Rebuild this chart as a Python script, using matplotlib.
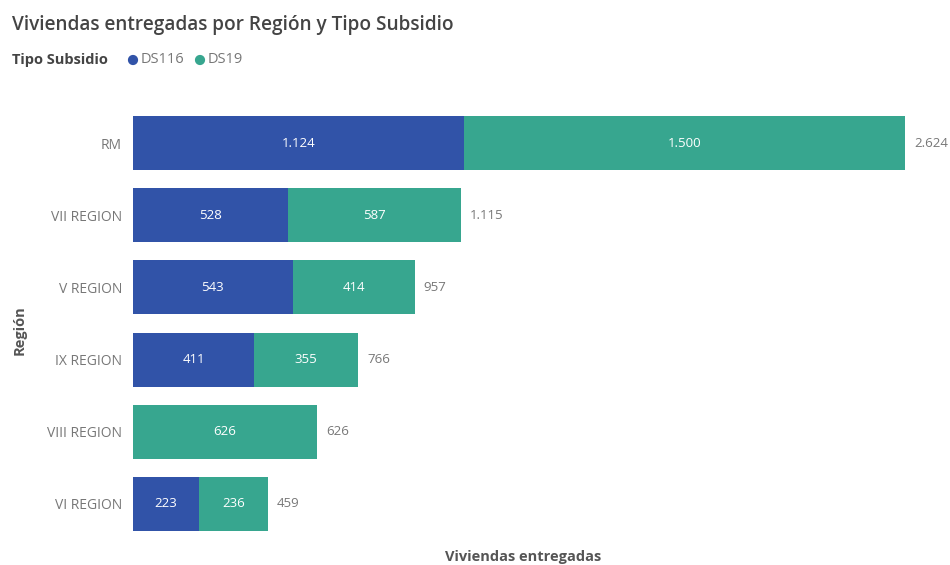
import matplotlib.pyplot as plt
import numpy as np

plt.rcParams['font.family'] = ['Open Sans', 'DejaVu Sans']

regiones = ["RM", "VII REGION", "V REGION", "IX REGION", "VIII REGION", "VI REGION"]
ds116 = [1124, 528, 543, 411, 0, 223]
ds19 = [1500, 587, 414, 355, 626, 236]

azul = "#3153a8"
verde = "#37a68f"


def fmt(v):
    return "{:,}".format(v).replace(",", ".")


fig = plt.figure(figsize=(9.5, 5.65), dpi=100)
ax = fig.add_axes([0.14, 0.0442, 0.86, 0.7664])

y = np.arange(len(regiones))
a = np.array(ds116)
b = np.array(ds19)
total = a + b

ax.barh(y, a, height=0.75, color=azul)
ax.barh(y, b, left=a, height=0.75, color=verde)

for i in range(len(regiones)):
    if a[i] > 0:
        ax.text(a[i] / 2, y[i], fmt(a[i]), color="white", ha="center",
                va="center", fontsize=9.5)
    if b[i] > 0:
        ax.text(a[i] + b[i] / 2, y[i], fmt(b[i]), color="white", ha="center",
                va="center", fontsize=9.5)
    ax.text(total[i] + 30, y[i], fmt(total[i]), color="#777777", ha="left",
            va="center", fontsize=9.5)

ax.set_xlim(0, 2777)
ax.set_ylim(5.5, -0.5)
ax.set_yticks(y)
ax.set_yticklabels(regiones, color="#777777", fontsize=10)
ax.tick_params(axis="y", length=0, pad=8)
ax.set_xticks([])
for s in ax.spines.values():
    s.set_visible(False)

fig.text(20 / 950, 1 - 330 / 565, "Región", rotation=90, ha="center",
         va="center", fontsize=10.5, color="#555555", fontweight="bold")
fig.text(445 / 950, 1 / 565, "Viviendas entregadas", ha="left",
         va="bottom", fontsize=10.5, color="#555555", fontweight="bold")

fig.text(12 / 950, 1 - 25 / 565, "Viviendas entregadas por Región y Tipo Subsidio",
         ha="left", va="center", fontsize=13.7, color="#444444",
         fontweight="semibold")
fig.text(12 / 950, 1 - 60 / 565, "Tipo Subsidio", ha="left", va="center",
         fontsize=10.5, color="#444444", fontweight="bold")

# legend markers drawn on a figure-wide overlay axes
lax = fig.add_axes([0, 0, 1, 1], facecolor="none")
lax.set_xlim(0, 950)
lax.set_ylim(565, 0)
lax.axis("off")
lax.scatter([133, 200], [60, 60], s=40, c=[azul, verde])
fig.text(141 / 950, 1 - 60 / 565, "DS116", ha="left", va="center",
         fontsize=10.5, color="#777777")
fig.text(208 / 950, 1 - 60 / 565, "DS19", ha="left", va="center",
         fontsize=10.5, color="#777777")

fig.savefig("out.png", dpi=100)
